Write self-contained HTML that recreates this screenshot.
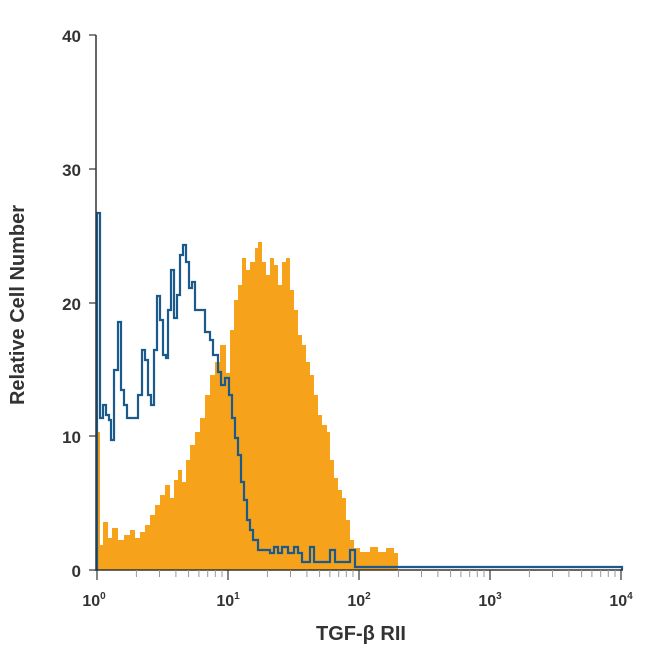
<!DOCTYPE html>
<html><head><meta charset="utf-8"><style>
html,body{margin:0;padding:0;background:#fff;}
svg{display:block;}
text{font-family:"Liberation Sans Narrow","Liberation Sans",sans-serif;font-weight:bold;fill:#333;}
</style></head><body>
<svg width="650" height="650" viewBox="0 0 650 650" xmlns="http://www.w3.org/2000/svg">
<defs>
<g id="mt" stroke="#999" stroke-width="1">
<line x1="39.4" y1="570" x2="39.4" y2="577"/><line x1="62.5" y1="570" x2="62.5" y2="577"/>
<line x1="78.9" y1="570" x2="78.9" y2="577"/><line x1="91.6" y1="570" x2="91.6" y2="577"/>
<line x1="101.9" y1="570" x2="101.9" y2="577"/><line x1="110.7" y1="570" x2="110.7" y2="577"/>
<line x1="118.3" y1="570" x2="118.3" y2="577"/><line x1="125" y1="570" x2="125" y2="577"/>
</g>
</defs>
<path fill="#f7a21b" d="M97,570 L97,432 L100,432 L100,545 L103,545 L103,522 L108,522 L108,538 L112,538 L112,528 L118,528 L118,540 L124,540 L124,535 L130,535 L130,530 L135,530 L135,538 L140,538 L140,532 L145,532 L145,525 L150,525 L150,515 L155,515 L155,505 L160,505 L160,495 L165,495 L165,485 L170,485 L170,498 L174,498 L174,480 L178,480 L178,470 L182,470 L182,482 L186,482 L186,460 L190,460 L190,445 L195,445 L195,432 L200,432 L200,418 L205,418 L205,395 L210,395 L210,375 L215,375 L215,362 L220,362 L220,345 L226,345 L226,373 L230,373 L230,330 L234,330 L234,300 L238,300 L238,285 L242,285 L242,258 L246,258 L246,270 L250,270 L250,262 L255,262 L255,248 L258,248 L258,242 L262,242 L262,262 L266,262 L266,275 L270,275 L270,258 L274,258 L274,265 L278,265 L278,285 L282,285 L282,262 L286,262 L286,258 L290,258 L290,290 L294,290 L294,310 L298,310 L298,335 L302,335 L302,345 L306,345 L306,362 L310,362 L310,375 L314,375 L314,395 L318,395 L318,415 L322,415 L322,425 L327,425 L327,432 L330,432 L330,460 L334,460 L334,478 L338,478 L338,490 L342,490 L342,498 L346,498 L346,520 L350,520 L350,540 L354,540 L354,548 L360,548 L360,552 L370,552 L370,547 L378,547 L378,552 L386,552 L386,548 L394,548 L394,553 L398,553 L398,570 Z"/>
<path fill="none" stroke="#1a5a8c" stroke-width="2.2" stroke-linejoin="miter" d="M97,570 L97,213 L100,213 L100,418 L103,418 L103,405 L106,405 L106,415 L109,415 L109,420 L111,420 L111,440 L114,440 L114,370 L118,370 L118,322 L121,322 L121,390 L124,390 L124,405 L127,405 L127,418 L138,418 L138,395 L142,395 L142,350 L145,350 L145,360 L148,360 L148,395 L151,395 L151,405 L154,405 L154,350 L157,350 L157,296 L160,296 L160,320 L163,320 L163,355 L166,355 L166,358 L168,358 L168,310 L171,310 L171,270 L174,270 L174,318 L177,318 L177,295 L180,295 L180,255 L183,255 L183,245 L186,245 L186,262 L189,262 L189,288 L192,288 L192,282 L195,282 L195,310 L205,310 L205,332 L210,332 L210,340 L213,340 L213,355 L218,355 L218,372 L221,372 L221,385 L225,385 L225,378 L229,378 L229,395 L232,395 L232,418 L235,418 L235,438 L238,438 L238,455 L241,455 L241,482 L244,482 L244,500 L247,500 L247,520 L250,520 L250,530 L253,530 L253,540 L258,540 L258,550 L270,550 L270,553 L274,553 L274,547 L278,547 L278,553 L282,553 L282,547 L288,547 L288,553 L294,553 L294,547 L298,547 L298,553 L302,553 L302,562 L310,562 L310,547 L314,547 L314,562 L330,562 L330,550 L335,550 L335,562 L350,562 L350,550 L355,550 L355,567 L622,567 L622,570"/>
<line x1="96" y1="35" x2="96" y2="571" stroke="#333" stroke-width="1.5"/>
<line x1="96" y1="570" x2="623" y2="570" stroke="#333" stroke-width="1.5"/>
<g stroke="#333" stroke-width="1.2">
<line x1="89" y1="35" x2="96" y2="35"/><line x1="89" y1="169" x2="96" y2="169"/>
<line x1="89" y1="303" x2="96" y2="303"/><line x1="89" y1="436" x2="96" y2="436"/>
<line x1="89" y1="570" x2="96" y2="570"/>
<line x1="97" y1="570" x2="97" y2="580"/><line x1="228" y1="570" x2="228" y2="580"/>
<line x1="359" y1="570" x2="359" y2="580"/><line x1="490" y1="570" x2="490" y2="580"/>
<line x1="621" y1="570" x2="621" y2="580"/>
</g>
<use href="#mt" x="97"/><use href="#mt" x="228"/><use href="#mt" x="359"/><use href="#mt" x="490"/>
<g font-size="17" text-anchor="end">
<text x="81" y="42">40</text><text x="81" y="176">30</text><text x="81" y="310">20</text>
<text x="81" y="443">10</text><text x="81" y="577">0</text>
</g>
<g font-size="16" text-anchor="middle">
<text x="94" y="606">10<tspan font-size="10" dy="-7">0</tspan></text>
<text x="228" y="606">10<tspan font-size="10" dy="-7">1</tspan></text>
<text x="359" y="606">10<tspan font-size="10" dy="-7">2</tspan></text>
<text x="490" y="606">10<tspan font-size="10" dy="-7">3</tspan></text>
<text x="621" y="606">10<tspan font-size="10" dy="-7">4</tspan></text>
</g>
<text x="361" y="640" font-size="20" text-anchor="middle">TGF-β RII</text>
<text transform="translate(24,305) rotate(-90)" font-size="20" text-anchor="middle">Relative Cell Number</text>
</svg>
</body></html>
